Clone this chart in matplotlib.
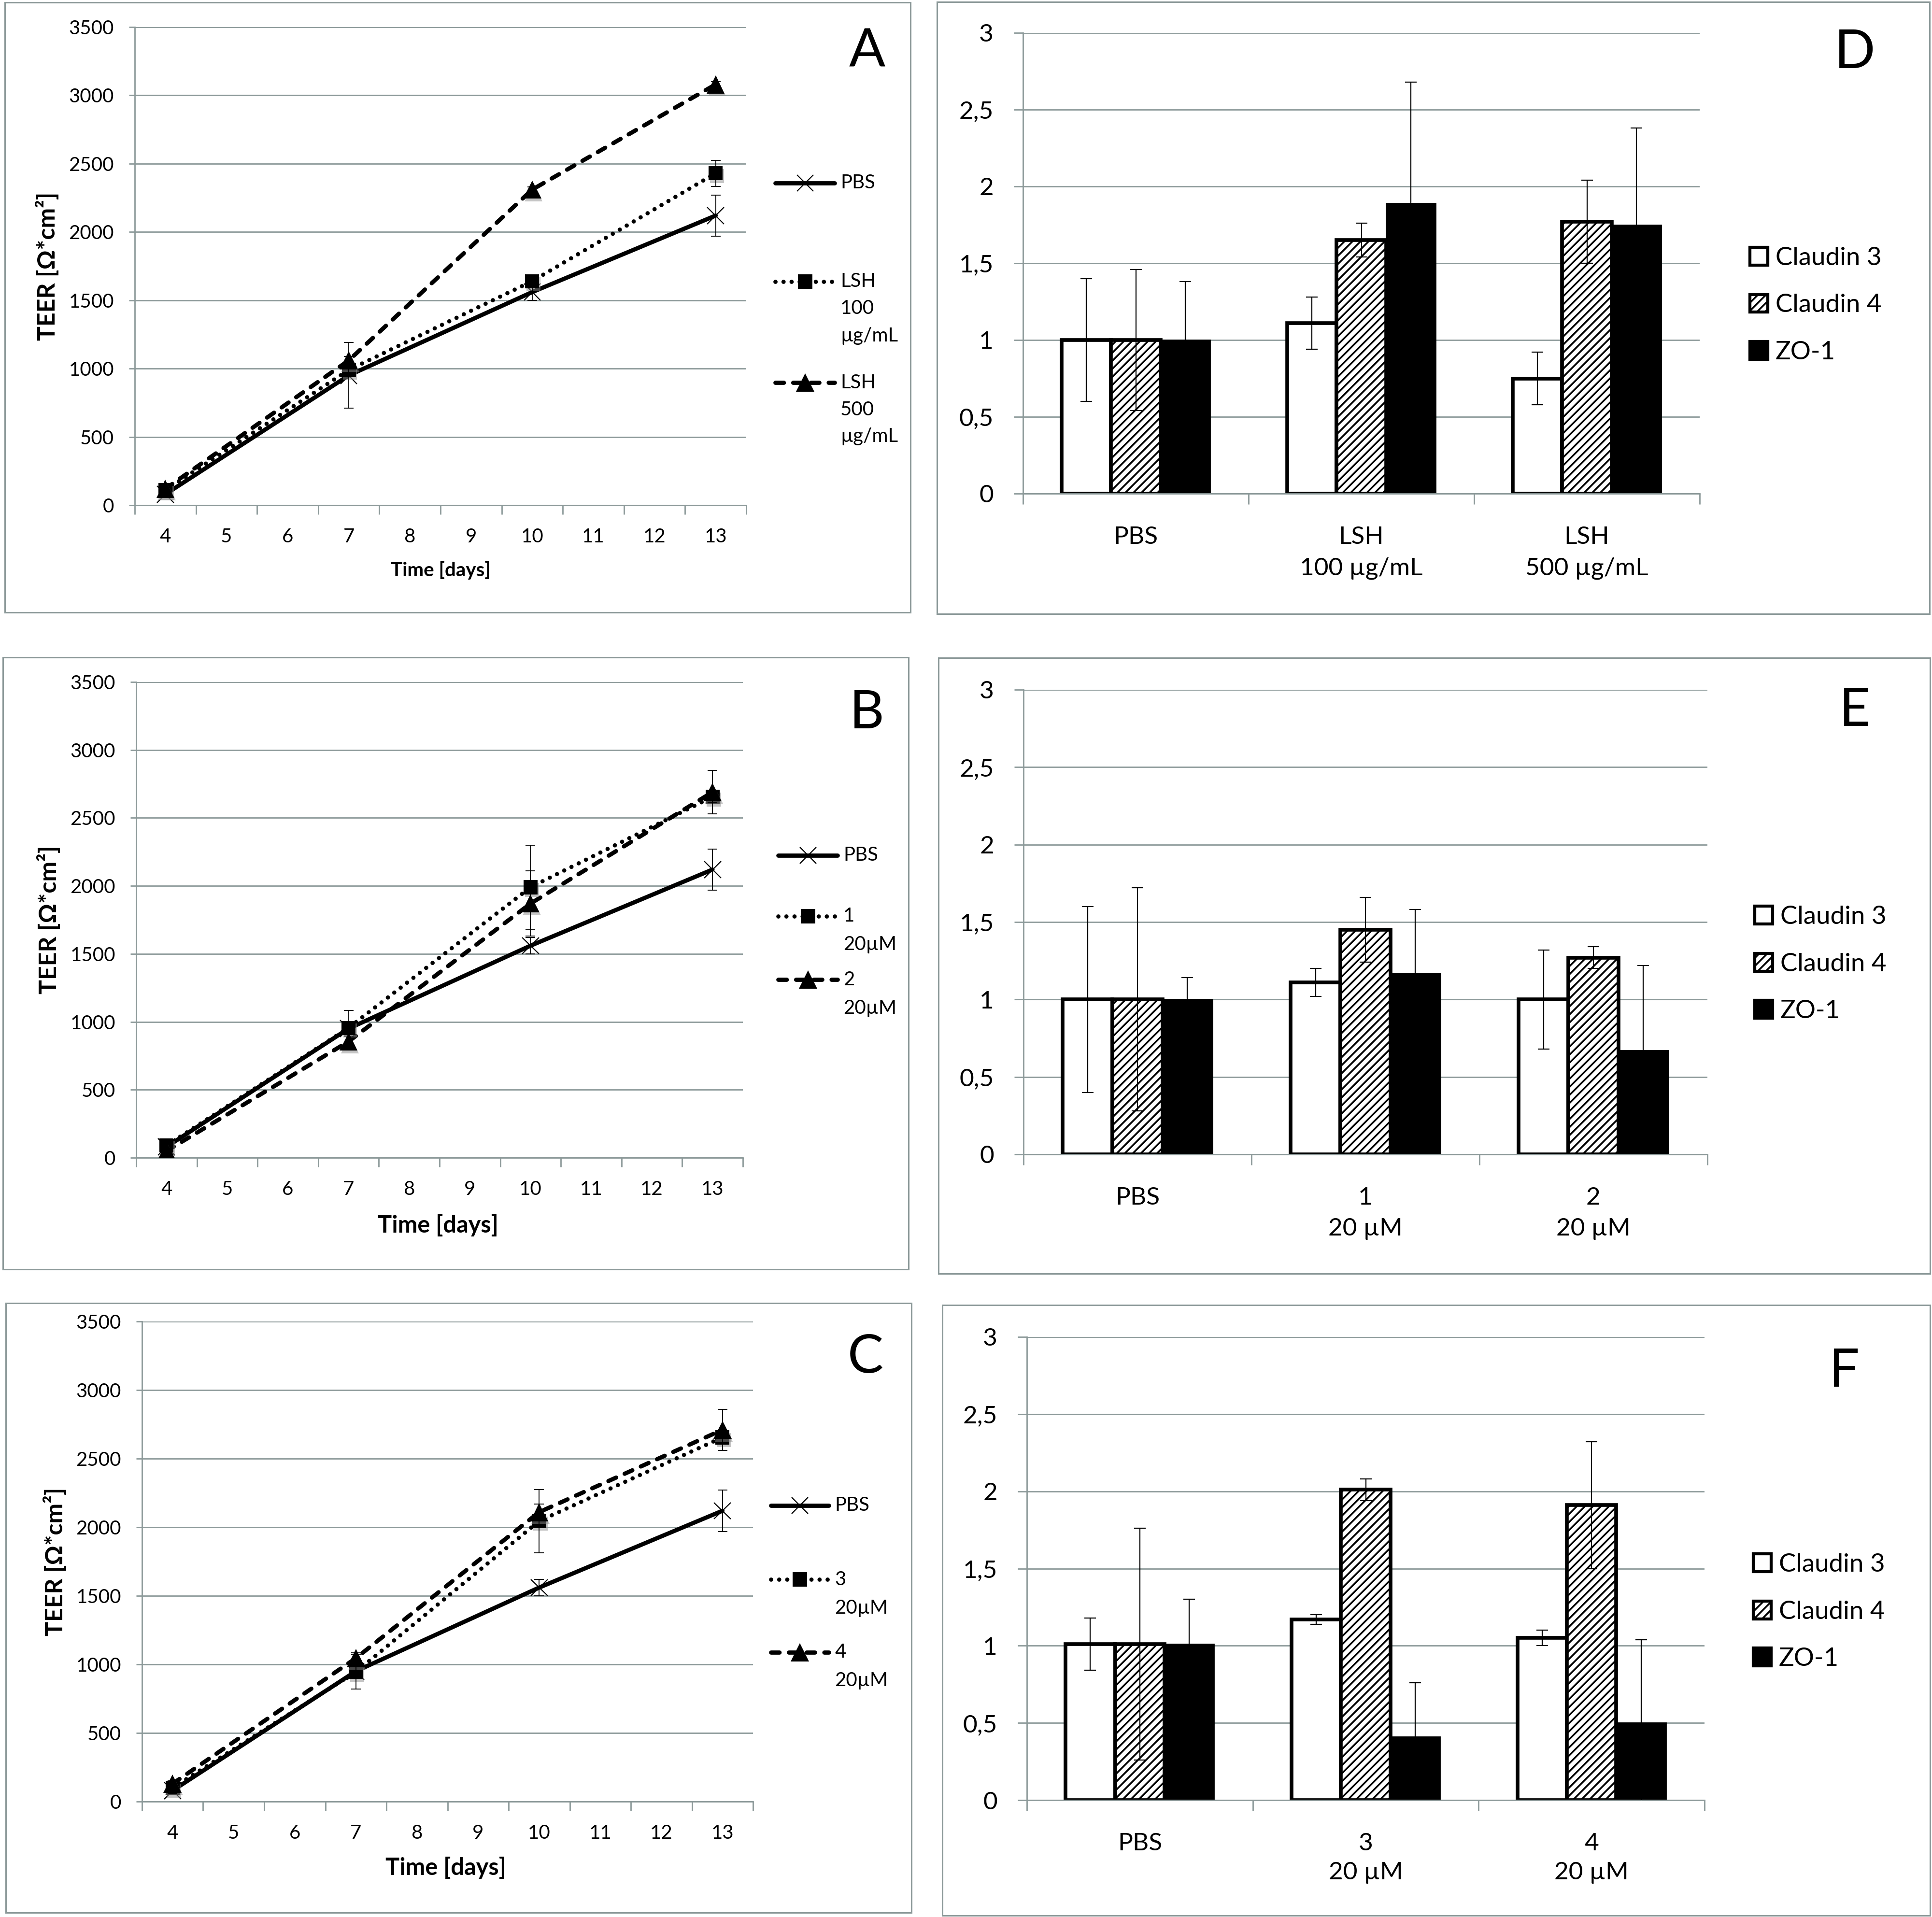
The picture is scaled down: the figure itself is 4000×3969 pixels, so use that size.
import matplotlib
matplotlib.use("Agg")
import matplotlib.pyplot as plt
import matplotlib.patheffects as pe
from matplotlib.lines import Line2D
from matplotlib.patches import Rectangle
import numpy as np

plt.rcParams['font.family'] = ['Lato', 'DejaVu Sans']
plt.rcParams['hatch.linewidth'] = 2.6

W, H = 4000, 3969
GRID = '#8c9999'

# ---- data: TEER time courses ----
days = [4, 7, 10, 13]
day_ticks = list(range(4, 14))

pbs = [80, 950, 1560, 2120]
pbs_err = [20, 40, 60, 150]

a_pbs_err = [20, 240, 60, 150]
a_lsh100 = [110, 990, 1640, 2430]
a_lsh100_err = [20, 40, 30, 95]
a_lsh500 = [120, 1060, 2310, 3080]
a_lsh500_err = [20, 30, 20, 20]

b_c1 = [90, 955, 1990, 2655]
b_c1_err = [20, 130, 310, 40]
b_c2 = [50, 855, 1870, 2690]
b_c2_err = [20, 40, 240, 160]

c_c3 = [100, 945, 2045, 2655]
c_c3_err = [20, 125, 230, 50]
c_c4 = [130, 1045, 2110, 2710]
c_c4_err = [20, 40, 60, 150]

# ---- data: relative protein expression ----
bar_series = ['Claudin 3', 'Claudin 4', 'ZO-1']

d_groups = ['PBS', 'LSH\n100 µg/mL', 'LSH\n500 µg/mL']
d_vals = [[1.0, 1.11, 0.75], [1.0, 1.65, 1.77], [1.0, 1.89, 1.75]]
d_errs = [[0.40, 0.17, 0.17], [0.46, 0.11, 0.27], [0.38, 0.79, 0.63]]

e_groups = ['PBS', '1\n20 µM', '2\n20 µM']
e_vals = [[1.0, 1.11, 1.0], [1.0, 1.45, 1.27], [1.0, 1.17, 0.67]]
e_errs = [[0.60, 0.09, 0.32], [0.72, 0.21, 0.07], [0.14, 0.41, 0.55]]

f_groups = ['PBS', '3\n20 µM', '4\n20 µM']
f_vals = [[1.01, 1.17, 1.05], [1.01, 2.01, 1.91], [1.01, 0.41, 0.50]]
f_errs = [[0.17, 0.03, 0.05], [0.75, 0.07, 0.41], [0.29, 0.35, 0.54]]

bar_yticks = [0, 0.5, 1, 1.5, 2, 2.5, 3]
bar_yticklabels = ['0', '0,5', '1', '1,5', '2', '2,5', '3']

fig = plt.figure(figsize=(W / 100, H / 100), dpi=100)


def fx(x):
  return x / W


def fy(y):
  return 1 - y / H


def add_axes(x0, y0, x1, y1):
  return fig.add_axes([fx(x0), fy(y1), (x1 - x0) / W, (y1 - y0) / H])


def frame(x0, y0, x1, y1):
  fig.add_artist(Rectangle((fx(x0), fy(y1)), (x1 - x0) / W, (y1 - y0) / H,
                           transform=fig.transFigure, fill=False, ec=GRID, lw=2.2))


def style_axes(ax):
  for s in ['top', 'right']:
    ax.spines[s].set_visible(False)
  for s in ['left', 'bottom']:
    ax.spines[s].set_color(GRID)
    ax.spines[s].set_linewidth(2)
  ax.grid(axis='y', color=GRID, lw=2)
  ax.set_axisbelow(True)


LW = 6.3
STYLES = [
  dict(ls='-', marker='x', ms=25, mew=1.6, mfc='black'),
  dict(ls=(0, (0.01, 1.9)), marker='s', ms=21, mew=0, mfc='black'),
  dict(ls=(0, (2.0, 2.2)), marker='^', ms=27, mew=0, mfc='black'),
]


def line_panel(box, fbox, series, errs, names, leg, letter, xlab):
  frame(*fbox)
  ax = add_axes(*box)
  style_axes(ax)
  for i, (vals, err) in enumerate(zip(series, errs)):
    st = dict(STYLES[i])
    ls = st.pop('ls')
    ax.plot(days, vals, ls=ls, color='black', lw=LW, dash_capstyle='round',
            solid_capstyle='round', zorder=3)
    ax.plot(days, vals, ls='none', color='black', mec='black', zorder=4,
            path_effects=[pe.SimplePatchShadow(offset=(2, -4), shadow_rgbFace='0.55', alpha=0.5), pe.Normal()],
            **st)
    ax.errorbar(days, vals, yerr=err, fmt='none', ecolor='black', elinewidth=1.3,
                capsize=7, capthick=1.3, zorder=5)
  ax.set_xlim(3.5, 13.5)
  ax.set_ylim(0, 3500)
  ax.set_yticks(np.arange(0, 3501, 500))
  ax.set_xticks(np.arange(3.5, 14, 1))
  ax.set_xticklabels([])
  ax.set_xticks(day_ticks, minor=True)
  ax.set_xticklabels([str(d) for d in day_ticks], minor=True)
  ax.tick_params(axis='x', which='major', length=14, width=2, color=GRID)
  ax.tick_params(axis='x', which='minor', length=0, pad=34, labelsize=29)
  ax.tick_params(axis='y', length=9, width=2, color=GRID, pad=22, labelsize=29)
  ax.set_xlabel('Time [days]', fontsize=xlab[2], fontweight='bold', va='center')
  ax.xaxis.set_label_coords(fx(xlab[0]), fy(xlab[1]), transform=fig.transFigure)
  ax.set_ylabel('TEER [Ω*cm²]', fontsize=36, fontweight='bold', va='center')
  ax.yaxis.set_label_coords(fx(box[0] - 181), fy((box[1] + box[3]) / 2), transform=fig.transFigure)
  fig.text(fx(letter[0]), fy(letter[1]), letter[2], fontsize=80, ha='center', va='center')
  # legend, handle aligned to the first line of each label
  x0, x1, tx, ys, gap = leg
  for i, (name, y) in enumerate(zip(names, ys)):
    st = dict(STYLES[i])
    ls = st.pop('ls')
    fig.add_artist(Line2D([fx(x0), fx(x1)], [fy(y), fy(y)], transform=fig.transFigure,
                          ls=ls, color='black', lw=LW, dash_capstyle='round', solid_capstyle='round'))
    fig.add_artist(Line2D([fx((x0 + x1) / 2)], [fy(y)], transform=fig.transFigure,
                          ls='none', color='black', mec='black', **st))
    for j, part in enumerate(name.split('\n')):
      fig.text(fx(tx), fy(y + j * gap), part, fontsize=29, ha='left', va='center')
  return ax


def bar_panel(box, fbox, groups, vals, errs, leg, letter, lab_gap):
  frame(*fbox)
  ax = add_axes(*box)
  style_axes(ax)
  x = np.arange(len(groups))
  w = 0.219
  looks = [dict(facecolor='white', edgecolor='black', lw=5.5),
           dict(facecolor='white', edgecolor='black', lw=5.5, hatch='//'),
           dict(facecolor='black', edgecolor='black', lw=2)]
  for i, name in enumerate(bar_series):
    ax.bar(x + (i - 1) * w, vals[i], w, label=name, zorder=2, **looks[i])
    ax.errorbar(x + (i - 1) * w, vals[i], yerr=errs[i], fmt='none', ecolor='black',
                elinewidth=1.6, capsize=8.5, capthick=1.6, zorder=5)
  ax.set_xlim(-0.5, len(groups) - 0.5)
  ax.set_ylim(0, 3)
  ax.set_yticks(bar_yticks)
  ax.set_yticklabels(bar_yticklabels)
  ax.set_xticks(np.arange(-0.5, len(groups), 1))
  ax.set_xticklabels([])
  ax.set_xticks(x, minor=True)
  ax.set_xticklabels(groups, minor=True, linespacing=lab_gap)
  ax.tick_params(axis='x', which='major', length=16, width=2, color=GRID)
  ax.tick_params(axis='x', which='minor', length=0, pad=48, labelsize=37)
  ax.tick_params(axis='y', length=14, width=2, color=GRID, pad=30, labelsize=37)
  fig.text(fx(letter[0]), fy(letter[1]), letter[2], fontsize=80, ha='center', va='center')
  leg_h = [Rectangle((0, 0), 1, 1, **looks[0]), Rectangle((0, 0), 1, 1, **looks[1]),
           Rectangle((0, 0), 1, 1, **looks[2])]
  for r in leg_h:
    r.set_linewidth(4.5)
  ax.legend(leg_h, bar_series, loc='center left', bbox_to_anchor=(fx(leg[0]), fy(leg[1])),
            bbox_transform=fig.transFigure, frameon=False, fontsize=38, handlelength=0.7,
            handleheight=0.7, handletextpad=0.3, labelspacing=0.95, borderpad=0, borderaxespad=0)
  return ax


# A
line_panel((279, 56, 1545, 1046), (10, 5, 1885, 1268),
           [pbs, a_lsh100, a_lsh500], [a_pbs_err, a_lsh100_err, a_lsh500_err],
           ['PBS', 'LSH\n100\nµg/mL', 'LSH\n500\nµg/mL'],
           (1605, 1728, 1740, [379, 583, 792], 56), (1795, 107, 'A'), (912, 1181, 29))
# B
line_panel((282, 1412, 1538, 2397), (6, 1361, 1881, 2628),
           [pbs, b_c1, b_c2], [pbs_err, b_c1_err, b_c2_err],
           ['PBS', '1\n20µM', '2\n20µM'],
           (1611, 1734, 1746, [1771, 1897, 2028], 59), (1795, 1477, 'B'), (907, 2537, 35))
# C
line_panel((294, 2736, 1559, 3730), (12, 2698, 1887, 3960),
           [pbs, c_c3, c_c4], [pbs_err, c_c3_err, c_c4_err],
           ['PBS', '3\n20µM', '4\n20µM'],
           (1596, 1716, 1728, [3117, 3270, 3421], 59), (1792, 2811, 'C'), (923, 3867, 35))

# D, E, F
bar_panel((2118, 68, 3519, 1022), (1940, 4, 3995, 1271), d_groups, d_vals, d_errs,
          (3623, 632), (3840, 110, 'D'), 1.5)
bar_panel((2119, 1428, 3535, 2390), (1943, 1362, 3996, 2637), e_groups, e_vals, e_errs,
          (3633, 1996), (3840, 1472, 'E'), 1.5)
bar_panel((2126, 2768, 3529, 3727), (1951, 2702, 3996, 3966), f_groups, f_vals, f_errs,
          (3630, 3337), (3818, 2840, 'F'), 1.4)

fig.savefig('out.png', dpi=100)
